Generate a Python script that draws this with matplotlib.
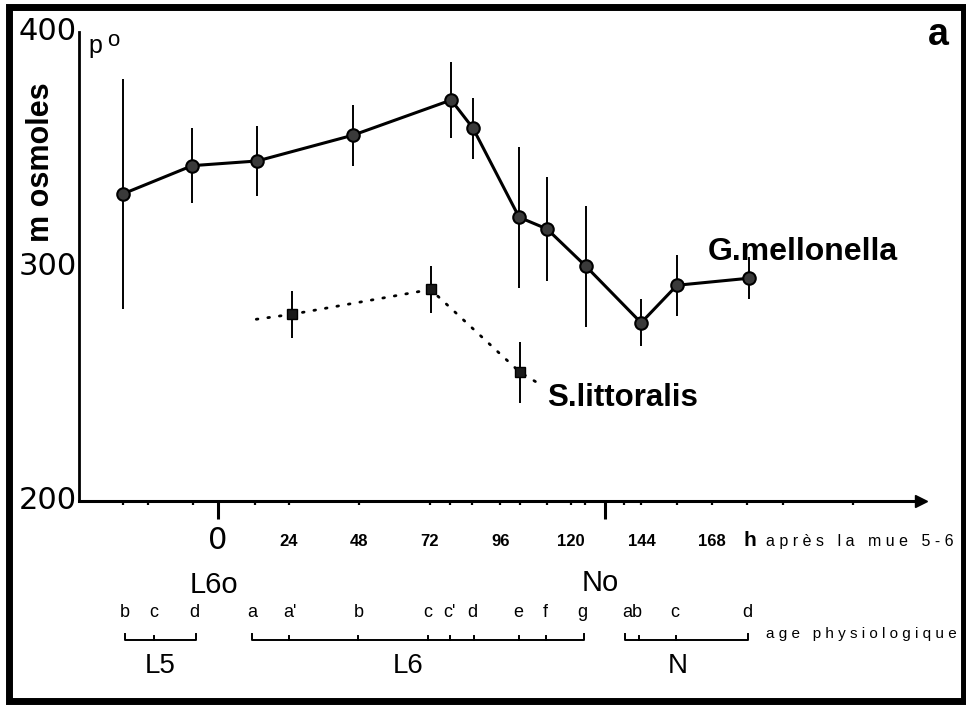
import matplotlib
matplotlib.use("Agg")
import matplotlib.pyplot as plt
from matplotlib.patches import Rectangle

plt.rcParams["font.family"] = ["Liberation Sans", "DejaVu Sans"]

# Pression osmotique de l'hémolymphe (m osmoles) en fonction du temps (h après la mue 5-6)
mellonella_h = [-32.3, -8.8, 13.3, 45.9, 79.3, 86.7, 102.4, 111.9, 125.2, 143.9, 156.1, 180.6]
mellonella_val = [331, 343, 345, 356, 371, 359, 321, 316, 300, 276, 292, 295]
mellonella_err = [49, 16, 15, 13, 16, 13, 30, 22, 26, 10, 13, 9]

littoralis_h = [25.0, 72.3, 102.6]
littoralis_val = [279.6, 290.2, 255.0]
littoralis_err = [10, 10, 13]
# tendance pointillée prolongée de part et d'autre des mesures
littoralis_trend_h = [13.0, 25.0, 72.3, 102.6, 110.5]
littoralis_trend_val = [277.5, 279.6, 290.2, 255.0, 249.0]

hour_ticks = [0, 24, 48, 72, 96, 120, 144, 168]
hour_labels = ["0", "24", "48", "72", "96", "120", "144", "168"]
extra_ticks = [-32.3, -23.8, -8.5, 12.6, 78.9, 86.4, 102.7, 111.9, 124.8, 138.1,
               156.1, 179.9, 192, 216]
moult_ticks = [0, 131.6]
y_ticks = [200, 300, 400]

# âge physiologique : lettres des stades et accolades L5 / L6 / N
stage_letters = ["b", "c", "d", "a", "a'", "b", "c", "c'", "d", "e", "f", "g", "ab", "c", "d"]
stage_h = [-31.6, -21.8, -8.2, 11.6, 24.5, 48.0, 71.4, 78.6, 86.4, 102.0, 111.2, 123.8,
           140.8, 155.4, 179.9]
instars = ["L5", "L6", "N"]
instar_span = [(-31.6, -7.5), (11.4, 124.5), (138.3, 180.2)]
instar_marks = [[-21.8], [24.2, 47.6, 71.4, 78.9, 86.9, 102.2, 111.6], [143.3, 155.6]]
instar_label_h = [-19.8, 64.5, 156.5]

fig = plt.figure(figsize=(9.66, 7.05), dpi=100)
ax = fig.add_axes([79 / 966, 1 - 501 / 705, (921 - 79) / 966, (501 - 32) / 705])
ax.set_xlim(-47.3, 239.1)
ax.set_ylim(200, 400)

for s in ["top", "right"]:
    ax.spines[s].set_visible(False)
ax.spines["left"].set_linewidth(2.0)
ax.spines["bottom"].set_linewidth(2.2)
ax.plot([1], [0], marker=">", color="black", markersize=8,
        transform=ax.transAxes, clip_on=False)

ax.set_yticks([])
ax.set_xticks(moult_ticks)
ax.set_xticks(hour_ticks[1:] + extra_ticks, minor=True)
ax.tick_params(axis="x", which="major", direction="out", length=13, width=2.2,
               labelbottom=False)
ax.tick_params(axis="x", which="minor", direction="out", length=3, width=1.6)

# G. mellonella : trait plein, cercles
ax.errorbar(mellonella_h, mellonella_val, yerr=mellonella_err, fmt="none",
            ecolor="black", elinewidth=1.4, capsize=0)
ax.plot(mellonella_h, mellonella_val, "-", color="black", linewidth=2.2,
        marker="o", markersize=9, markerfacecolor="#3a3a3a",
        markeredgecolor="black", markeredgewidth=1.5, zorder=3)

# S. littoralis : pointillés, carrés
ax.errorbar(littoralis_h, littoralis_val, yerr=littoralis_err, fmt="none",
            ecolor="black", elinewidth=1.4, capsize=0)
ax.plot(littoralis_trend_h, littoralis_trend_val, color="black", linewidth=2.0,
        linestyle=(0, (0.6, 3.6)), dash_capstyle="round")
ax.plot(littoralis_h, littoralis_val, "s", color="black", markersize=7,
        markerfacecolor="#1a1a1a", zorder=3)

ax.text(166.7, 306, "G.mellonella", fontsize=23, fontweight="bold", va="center")
ax.text(111.9, 244, "S.littoralis", fontsize=22.5, fontweight="bold", va="center")

# graduations de l'axe des ordonnées
ytr = ax.get_yaxis_transform()
for v in y_ticks:
    ax.text(-0.003, v, str(v), transform=ytr, ha="right", va="center",
            fontsize=22, fontfamily="DejaVu Sans", clip_on=False)

xtr = ax.get_xaxis_transform()
for h, lab in zip(hour_ticks, hour_labels):
    if lab == "0":
        ax.text(h, -0.085, lab, transform=xtr, ha="center", va="center",
                fontsize=22, fontfamily="DejaVu Sans")
    else:
        ax.text(h, -0.087, lab, transform=xtr, ha="center", va="center",
                fontsize=12, fontweight="bold")
ax.text(180.8, -0.085, "h", transform=xtr, ha="center", va="center",
        fontsize=15, fontweight="bold")
ax.text(186.3, -0.087, " ".join("après la mue 5-6"), transform=xtr,
        ha="left", va="center", fontsize=11.5)

ax.text(-1.5, -0.179, "L6o", transform=xtr, ha="center", va="center", fontsize=21)
ax.text(130.0, -0.175, "No", transform=xtr, ha="center", va="center", fontsize=21)

for h, lab in zip(stage_h, stage_letters):
    ax.text(h, -0.237, lab, transform=xtr, ha="center", va="center", fontsize=13)

for (h0, h1), marks, name, hl in zip(instar_span, instar_marks, instars, instar_label_h):
    ax.plot([h0, h0, h1, h1], [-0.284, -0.296, -0.296, -0.284], color="black",
            linewidth=1.4, transform=xtr, clip_on=False)
    for m in marks:
        ax.plot([m, m], [-0.296, -0.287], color="black", linewidth=1.4,
                transform=xtr, clip_on=False)
    ax.text(hl, -0.352, name, transform=xtr, ha="center", va="center", fontsize=20)
ax.text(186.3, -0.284, " ".join("age physiologique"), transform=xtr,
        ha="left", va="center", fontsize=11)

# ordonnée, notation et lettre de panneau
fig.text(41 / 966, 1 - 162 / 705, "m osmoles", rotation=90, ha="center", va="center",
         fontsize=22, fontweight="bold")
fig.text(95 / 966, 1 - 46 / 705, "p", ha="center", va="center", fontsize=18)
fig.text(113 / 966, 1 - 41 / 705, "o", ha="center", va="center", fontsize=16)
fig.text(938 / 966, 1 - 35 / 705, "a", ha="center", va="center", fontsize=27,
         fontweight="bold")

fig.patches.append(Rectangle((9 / 966, 4 / 705), 955 / 966, 694 / 705,
                             transform=fig.transFigure, fill=False,
                             edgecolor="black", linewidth=5))

fig.savefig("out.png", dpi=100)
